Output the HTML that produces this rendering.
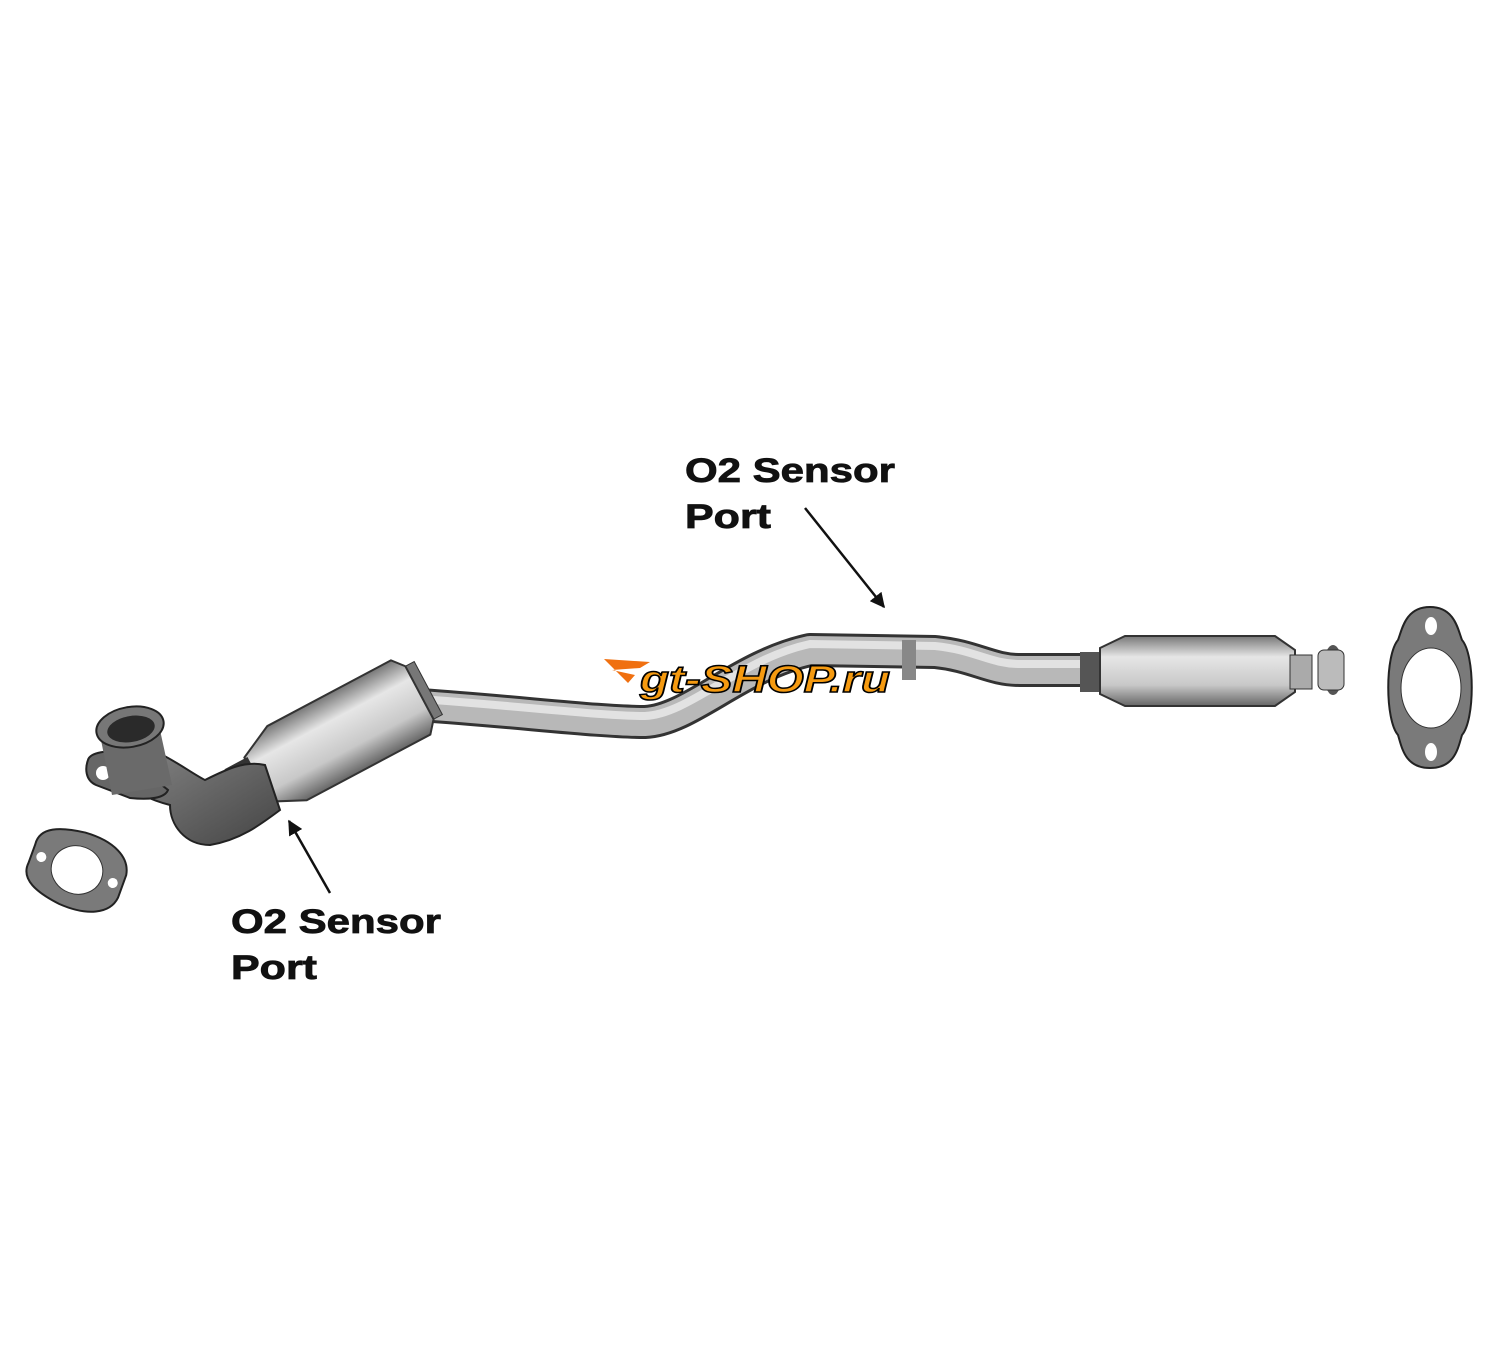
<!DOCTYPE html>
<html><head><meta charset="utf-8"><style>
html,body{margin:0;padding:0;background:#fff;}
svg{display:block}
text{font-family:"Liberation Sans",Arial,sans-serif;font-weight:bold;}
</style></head><body>
<svg width="1500" height="1350" viewBox="0 0 1500 1350" xmlns="http://www.w3.org/2000/svg">
<defs>
<linearGradient id="cat" x1="0" y1="0" x2="0" y2="1">
<stop offset="0" stop-color="#777"/><stop offset="0.3" stop-color="#e6e6e6"/><stop offset="0.7" stop-color="#c8c8c8"/><stop offset="1" stop-color="#666"/>
</linearGradient>
<linearGradient id="dark" x1="0" y1="0" x2="1" y2="1">
<stop offset="0" stop-color="#888"/><stop offset="1" stop-color="#444"/>
</linearGradient>
<marker id="ah" viewBox="0 0 10 10" refX="9" refY="5" markerWidth="6" markerHeight="6" orient="auto"><path d="M0,0 L10,5 L0,10 z" fill="#111"/></marker>
</defs>

<path d="M420,705 C520,712 600,722 645,722 C690,720 740,665 810,650 L935,652 C975,656 990,670 1020,670 L1090,670" fill="none" stroke="#333" stroke-width="34" stroke-linejoin="round"/>
<path d="M420,705 C520,712 600,722 645,722 C690,720 740,665 810,650 L935,652 C975,656 990,670 1020,670 L1090,670" fill="none" stroke="#b8b8b8" stroke-width="28" stroke-linejoin="round"/>
<path d="M420,699 C520,706 600,716 645,716 C690,714 740,659 810,644 L935,646 C975,650 990,664 1020,664 L1090,664" fill="none" stroke="#e2e2e2" stroke-width="8"/>
<rect x="902" y="640" width="14" height="40" fill="#888"/>

<rect x="1080" y="652" width="22" height="40" fill="#555"/>
<path d="M1100,648 L1125,636 L1275,636 L1295,650 L1295,692 L1275,706 L1125,706 L1100,694 z" fill="url(#cat)" stroke="#333" stroke-width="2"/>
<rect x="1290" y="655" width="22" height="34" fill="#aaa" stroke="#333"/>
<ellipse cx="1333" cy="670" rx="10" ry="25" fill="#555"/>
<rect x="1318" y="650" width="26" height="40" rx="6" fill="#bbb" stroke="#333"/>

<path d="M1430,607 C1455,607 1458,630 1462,640 C1475,655 1475,720 1462,735 C1458,748 1455,768 1430,768 C1405,768 1402,748 1398,735 C1385,720 1385,655 1398,640 C1402,630 1405,607 1430,607 z" fill="#7a7a7a" stroke="#222" stroke-width="2"/>
<ellipse cx="1431" cy="688" rx="30" ry="40" fill="#fff" stroke="#333"/>
<ellipse cx="1431" cy="626" rx="6" ry="9" fill="#fff"/>
<ellipse cx="1431" cy="752" rx="6" ry="9" fill="#fff"/>

<g transform="translate(340,735) rotate(-28)">
<rect x="78" y="-30" width="22" height="60" fill="#777" stroke="#333"/>
<path d="M-95,-25 L-60,-42 L80,-42 L90,-30 L90,30 L80,42 L-60,42 L-95,25 z" fill="url(#cat)" stroke="#333" stroke-width="2"/>
<rect x="-118" y="-24" width="26" height="48" fill="#333"/>
</g>

<path d="M120,745 C150,740 185,770 205,780 C225,770 245,760 265,765 L280,810 C260,825 240,840 210,845 C185,845 170,825 170,805 C150,800 130,790 120,780 z" fill="url(#dark)" stroke="#222" stroke-width="2"/>
<path d="M88,760 C90,752 110,750 120,752 L168,790 C165,798 150,800 130,798 L96,785 C85,780 85,768 88,760 z" fill="#666" stroke="#222" stroke-width="2"/>
<circle cx="103" cy="773" r="7" fill="#fff"/>
<path d="M100,735 L160,730 L172,785 L112,795 z" fill="#6a6a6a"/>
<ellipse cx="130" cy="727" rx="34" ry="20" fill="#777" stroke="#222" stroke-width="2" transform="rotate(-10 130 727)"/>
<ellipse cx="131" cy="729" rx="24" ry="13" fill="#2a2a2a" transform="rotate(-10 131 729)"/>

<g transform="translate(77,870) rotate(20)">
<path d="M-48,-10 C-50,-28 -30,-35 -5,-38 C25,-40 45,-30 48,-12 L48,12 C46,30 25,40 -5,38 C-30,35 -50,28 -48,10 z" fill="#7a7a7a" stroke="#222" stroke-width="2"/>
<ellipse cx="0" cy="0" rx="26" ry="24" fill="#fff" stroke="#333"/>
<circle cx="-38" cy="0" r="5" fill="#fff"/><circle cx="38" cy="0" r="5" fill="#fff"/>
</g>

<path d="M604,659 L650,662 L640,668 L612,670 L635,675 L628,683 Z" fill="#f07010"/>
<text x="640" y="692" font-size="38" font-style="italic" fill="#f59a10" stroke="#000" stroke-width="1.5" textLength="250" lengthAdjust="spacingAndGlyphs">gt-SHOP.ru</text>

<text x="685" y="482" font-size="34" fill="#111" stroke="#111" stroke-width="0.8" textLength="210" lengthAdjust="spacingAndGlyphs">O2 Sensor</text>
<text x="685" y="528" font-size="34" fill="#111" stroke="#111" stroke-width="0.8" textLength="86" lengthAdjust="spacingAndGlyphs">Port</text>
<line x1="805" y1="508" x2="884" y2="607" stroke="#111" stroke-width="2.5" marker-end="url(#ah)"/>
<text x="231" y="933" font-size="34" fill="#111" stroke="#111" stroke-width="0.8" textLength="210" lengthAdjust="spacingAndGlyphs">O2 Sensor</text>
<text x="231" y="979" font-size="34" fill="#111" stroke="#111" stroke-width="0.8" textLength="86" lengthAdjust="spacingAndGlyphs">Port</text>
<line x1="330" y1="893" x2="289" y2="821" stroke="#111" stroke-width="2.5" marker-end="url(#ah)"/>
</svg>
</body></html>
